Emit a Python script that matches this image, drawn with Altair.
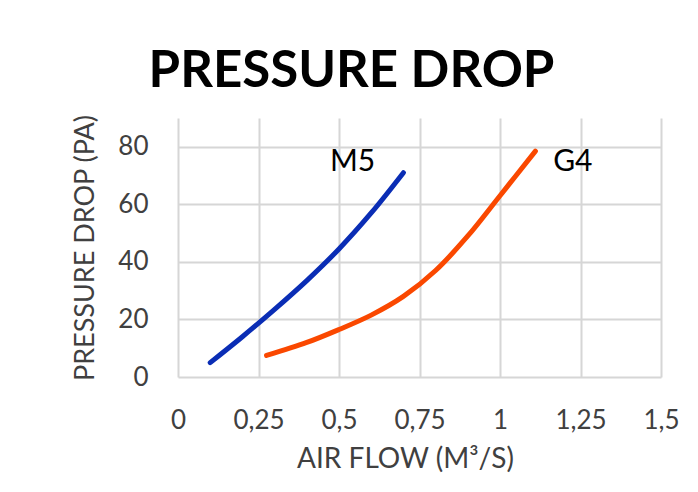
import altair as alt
import pandas as pd

# Data
m5_flow = [0.10, 0.20, 0.30, 0.40, 0.50, 0.60, 0.70]
m5_pressure = [5.0, 14.0, 23.5, 33.5, 44.5, 57.0, 71.0]
g4_flow = [0.275, 0.40, 0.50, 0.60, 0.70, 0.80, 0.90, 1.00, 1.11]
g4_pressure = [7.5, 12.0, 16.5, 21.5, 28.0, 37.0, 49.0, 63.0, 78.5]

series_names = ["M5", "G4"]
series_colors = ["#0a2db5", "#fa4800"]
label_flow = [0.472, 1.165]
label_pressure = [74.8, 74.8]

x_ticks = [0, 0.25, 0.5, 0.75, 1, 1.25, 1.5]
y_ticks = [0, 20, 40, 60, 80]

rows = []
for f, p in zip(m5_flow, m5_pressure):
    rows.append({"series": "M5", "flow": f, "pressure": p})
for f, p in zip(g4_flow, g4_pressure):
    rows.append({"series": "G4", "flow": f, "pressure": p})
df = pd.DataFrame(rows)

labels_df = pd.DataFrame({"series": series_names, "flow": label_flow, "pressure": label_pressure})

FONT = "Lato"
GRID = "#d6d6d6"
TXT = "#404040"

x_enc = alt.X(
    "flow:Q",
    scale=alt.Scale(domain=[0, 1.5], nice=False, zero=False),
    axis=alt.Axis(
        values=x_ticks,
        labelExpr="replace(toString(datum.value), '.', ',')",
        title="AIR FLOW (M³/S)",
        grid=True,
        gridColor=GRID,
        gridWidth=2,
        domain=False,
        ticks=False,
        labelFont=FONT,
        labelFontSize=26,
        labelColor=TXT,
        labelPadding=30,
        titleFont=FONT,
        titleFontSize=28,
        titleFontWeight="normal",
        titleColor=TXT,
        titlePadding=12,
        titleX=227,
        titleAlign="center",
        labelFlush=False,
        labelOverlap=False,
    ),
)
y_enc = alt.Y(
    "pressure:Q",
    scale=alt.Scale(domain=[0, 90], nice=False),
    axis=alt.Axis(
        values=y_ticks,
        title="PRESSURE DROP (PA)",
        grid=True,
        gridColor=GRID,
        gridWidth=2,
        domain=False,
        ticks=False,
        labelFont=FONT,
        labelFontSize=26,
        labelColor=TXT,
        labelPadding=30,
        titleFont=FONT,
        titleFontSize=27,
        titleFontWeight="normal",
        titleColor=TXT,
        titlePadding=18,
        labelFlush=False,
        labelOverlap=False,
    ),
)

color_scale = alt.Scale(domain=series_names, range=series_colors)

lines = alt.Chart(df).mark_line(
    strokeWidth=5, strokeCap="round", strokeJoin="round", interpolate="catmull-rom"
).encode(
    x=x_enc,
    y=y_enc,
    color=alt.Color("series:N", scale=color_scale, legend=None),
    detail="series:N",
)

labels = alt.Chart(labels_df).mark_text(
    align="left", baseline="middle", font=FONT, fontSize=30, color="#000000"
).encode(
    x=alt.X("flow:Q"),
    y=alt.Y("pressure:Q"),
    text="series:N",
)

chart = alt.layer(lines, labels).properties(
    width=483,
    height=259,
    autosize=alt.AutoSizeParams(type="none"),
    padding={"left": 170, "top": 110, "right": 29, "bottom": 107},
    background="white",
    title=alt.TitleParams(
        "PRESSURE DROP",
        font=FONT,
        fontSize=51,
        fontWeight="bold",
        color="#000000",
        anchor="middle",
        dx=-68,
        offset=-24,
        baseline="alphabetic",
    ),
).configure_view(stroke=None)

chart.save("out.html", embed_options={"renderer": "svg", "actions": False})
